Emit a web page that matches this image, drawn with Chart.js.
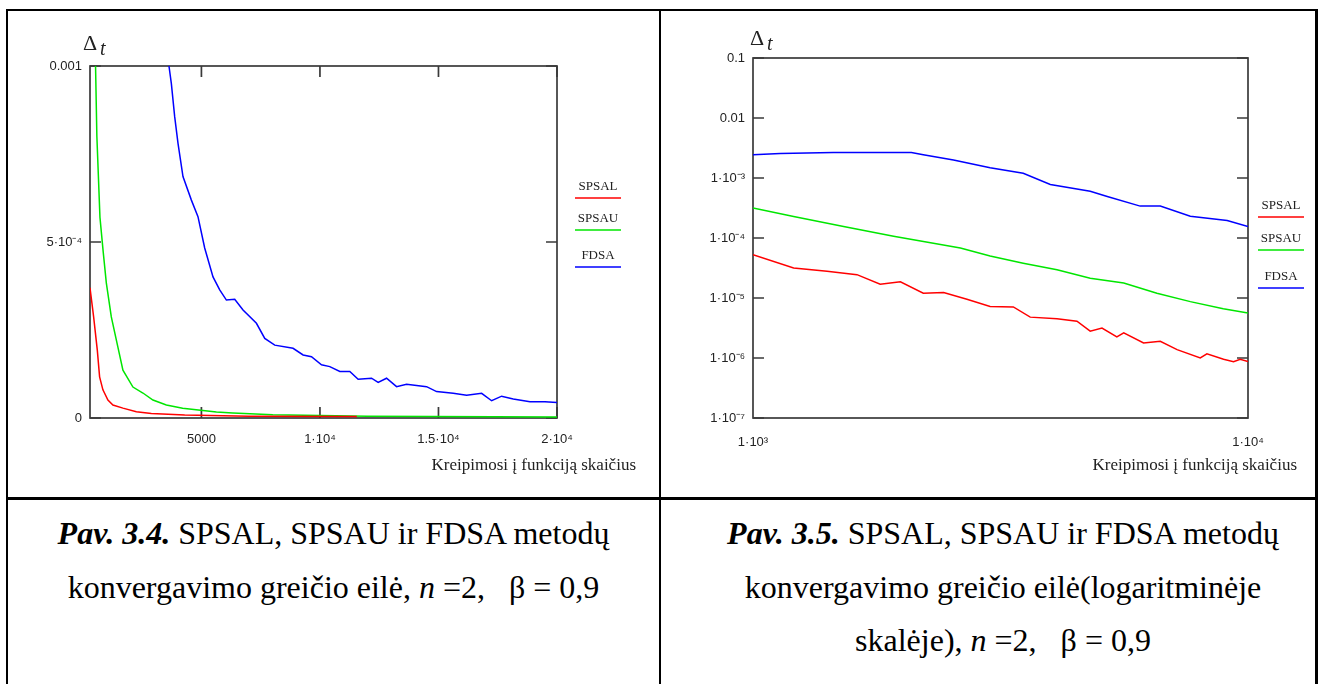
<!DOCTYPE html>
<html>
<head>
<meta charset="utf-8">
<script src="https://cdn.jsdelivr.net/npm/chart.js@4"></script>
<style>
  body { margin: 0; background: #fff; width: 1323px; height: 684px; overflow: hidden; position: relative; }
  .ln { position: absolute; background: #000; }
  canvas { position: absolute; }
  .cap { position: absolute; text-align: center; font-family: "Liberation Serif", "Times New Roman", serif; font-size: 32px; line-height: 53.5px; color: #000; white-space: nowrap; }
</style>
</head>
<body>
<!-- table rules -->
<div class="ln" style="left:6px;top:9px;width:1312px;height:2px"></div>
<div class="ln" style="left:6px;top:9px;width:2px;height:675px"></div>
<div class="ln" style="left:659px;top:9px;width:2px;height:675px"></div>
<div class="ln" style="left:1315px;top:9px;width:2.5px;height:675px"></div>
<div class="ln" style="left:6px;top:497px;width:1312px;height:2.5px"></div>

<canvas id="linChart" width="651" height="486" style="left:8px;top:11px;width:651px;height:486px"></canvas>
<canvas id="logChart" width="654" height="486" style="left:661px;top:11px;width:654px;height:486px"></canvas>

<div class="cap" style="left:8px;top:507px;width:651px">
  <b><i>Pav. 3.4.</i></b> SPSAL, SPSAU ir FDSA metodų<br>
  konvergavimo greičio eilė, <i>n</i> =2,&nbsp;&nbsp; β = 0,9
</div>
<div class="cap" style="left:691px;top:507px;width:624px">
  <b><i>Pav. 3.5.</i></b> SPSAL, SPSAU ir FDSA metodų<br>
  konvergavimo greičio eilė(logaritminėje<br>
  skalėje), <i>n</i> =2,&nbsp;&nbsp; β = 0,9
</div>

<script>
  let seriesNames = ["SPSAL", "SPSAU", "FDSA"];
  let seriesColors = ["#ff0000", "#00e600", "#0000ff"];
  let xTitle = "Kreipimosi į funkciją skaičius";

  // fig 3.4 - linear axes
  let linSpsalX = [300, 452, 608, 705, 845, 1056, 1267, 1689, 2255, 2888, 4294, 7000, 11556];
  let linSpsalY = [3.7e-4, 2.88e-4, 1.93e-4, 1.17e-4, 8.0e-5, 5.1e-5, 3.7e-5, 2.8e-5, 1.8e-5, 1.3e-5, 8.5e-6, 5e-6, 4e-6];

  let linSpsauX = [300, 520, 590, 720, 860, 988, 1199, 1410, 1689, 2111, 2533, 2955, 3521, 4209, 5632, 6320, 8009, 12000, 20000];
  let linSpsauY = [3.0e-3, 1.05e-3, 8.0e-4, 5.7e-4, 4.7e-4, 3.84e-4, 2.87e-4, 2.22e-4, 1.36e-4, 8.8e-5, 7.1e-5, 5.1e-5, 3.7e-5, 2.8e-5, 1.7e-5, 1.4e-5, 9e-6, 5e-6, 3e-6];

  let linFdsaX = [3000, 3631, 3732, 3872, 4011, 4222, 4577, 4855, 5138, 5489, 5772, 6054, 6405, 6755, 7321, 7672, 8094, 8866, 9289, 9643,
    10065, 10416, 10838, 11260, 11611, 12176, 12455, 12810, 13232, 13654, 14499, 14921, 15622, 16187, 16821, 17243, 17665, 18155, 18860, 19493, 20000];
  let linFdsaY = [1.3e-3, 1.0e-3, 9.5e-4, 8.56e-4, 7.81e-4, 6.86e-4, 6.19e-4, 5.72e-4, 4.83e-4, 4.01e-4, 3.64e-4, 3.35e-4, 3.37e-4, 3.07e-4, 2.69e-4, 2.26e-4, 2.07e-4, 1.98e-4, 1.79e-4, 1.74e-4,
    1.51e-4, 1.46e-4, 1.32e-4, 1.32e-4, 1.10e-4, 1.13e-4, 1.01e-4, 1.13e-4, 8.9e-5, 9.6e-5, 8.9e-5, 7.5e-5, 7.0e-5, 6.5e-5, 7.0e-5, 4.9e-5, 6.2e-5, 5.4e-5, 4.6e-5, 4.6e-5, 4.4e-5];

  let linXTicks = [5000, 10000, 15000, 20000];
  let linXLabels = ["5000", "1·10⁴", "1.5·10⁴", "2·10⁴"];
  let linYTicks = [0, 0.0005, 0.001];
  let linYLabels = ["0", "5·10⁻⁴", "0.001"];

  // fig 3.5 - log axes
  let logSpsalX = [1000, 1208, 1411, 1622, 1807, 1985, 2208, 2427, 2705, 3013, 3357, 3631, 4113, 4513, 4800, 5070, 5433, 5610, 6152, 6650, 7190, 8009, 8260, 8925, 9350, 9644, 10000];
  let logSpsalY = [5.25e-5, 3.16e-5, 2.8e-5, 2.45e-5, 1.7e-5, 1.86e-5, 1.2e-5, 1.23e-5, 9.5e-6, 7.2e-6, 7.1e-6, 4.8e-6, 4.5e-6, 4.1e-6, 2.8e-6, 3.16e-6, 2.24e-6, 2.63e-6, 1.78e-6, 1.9e-6, 1.38e-6, 1.0e-6, 1.17e-6, 9.5e-7, 8.7e-7, 9.5e-7, 8.7e-7];

  let logSpsauX = [1000, 1208, 1524, 1923, 2624, 3013, 3515, 4113, 4800, 5610, 6546, 7646, 8913, 10000];
  let logSpsauY = [3.16e-4, 2.29e-4, 1.55e-4, 1.07e-4, 6.8e-5, 5.0e-5, 3.8e-5, 2.95e-5, 2.14e-5, 1.78e-5, 1.2e-5, 8.7e-6, 6.6e-6, 5.6e-6];

  let logFdsaX = [1000, 1135, 1453, 2089, 2208, 2541, 3013, 3515, 3987, 4800, 5196, 6056, 6650, 7646, 9077, 10000];
  let logFdsaY = [2.45e-3, 2.57e-3, 2.67e-3, 2.65e-3, 2.45e-3, 2.0e-3, 1.48e-3, 1.2e-3, 7.8e-4, 6.0e-4, 4.9e-4, 3.4e-4, 3.4e-4, 2.3e-4, 1.95e-4, 1.55e-4];

  let logXTicks = [1000, 10000];
  let logXLabels = ["1·10³", "1·10⁴"];
  let logYTicks = [0.1, 0.01, 1e-3, 1e-4, 1e-5, 1e-6, 1e-7];
  let logYLabels = ["0.1", "0.01", "1·10⁻³", "1·10⁻⁴", "1·10⁻⁵", "1·10⁻⁶", "1·10⁻⁷"];

  let tickFont = { family: "'Liberation Sans', Arial, sans-serif", size: 13 };

  // mathcad style box, inner ticks, legend and titles
  let mcPlot = {
    id: "mcPlot",
    beforeDatasetsDraw(chart, args, o) {
      let ctx = chart.ctx, a = chart.chartArea;
      let x = chart.scales.x, y = chart.scales.y;
      ctx.save();
      ctx.strokeStyle = "#3a3a3a";
      ctx.lineWidth = 1.7;
      ctx.strokeRect(a.left, a.top, a.right - a.left, a.bottom - a.top);
      ctx.beginPath();
      if (o.xMarks) {
        x.ticks.forEach(t => {
          let p = x.getPixelForValue(t.value);
          ctx.moveTo(p, a.top); ctx.lineTo(p, a.top + 11);
          ctx.moveTo(p, a.bottom); ctx.lineTo(p, a.bottom - 11);
        });
      }
      y.ticks.forEach(t => {
        let p = y.getPixelForValue(t.value);
        ctx.moveTo(a.left, p); ctx.lineTo(a.left + 11, p);
        ctx.moveTo(a.right, p); ctx.lineTo(a.right - 11, p);
      });
      ctx.stroke();
      ctx.restore();
    },
    afterDraw(chart, args, o) {
      let ctx = chart.ctx;
      ctx.save();
      chart.data.datasets.forEach((ds, i) => {
        let ly = o.legendY[i];
        ctx.strokeStyle = ds.borderColor;
        ctx.lineWidth = 1.5;
        ctx.beginPath();
        ctx.moveTo(o.legendX, ly);
        ctx.lineTo(o.legendX + 46, ly);
        ctx.stroke();
        ctx.fillStyle = "#222";
        ctx.font = "13px 'Liberation Serif'";
        ctx.textAlign = "center";
        ctx.fillText(ds.label, o.legendX + 23, ly - 8);
      });
      ctx.fillStyle = "#222";
      ctx.font = "17px 'Liberation Serif'";
      ctx.textAlign = "right";
      ctx.fillText(xTitle, o.titleX, o.titleY);
      ctx.textAlign = "left";
      ctx.font = "22px 'Liberation Serif'";
      ctx.fillText("Δ", o.deltaX, o.deltaY);
      ctx.font = "italic 20px 'Liberation Serif'";
      ctx.fillText("t", o.deltaX + 17, o.deltaY + 5);
      ctx.restore();
    }
  };

  function makeChart(id, cfg) {
    let sets = cfg.series.map((s, i) => ({
      label: seriesNames[i],
      data: s[0].map((v, k) => ({ x: v, y: s[1][k] })),
      borderColor: seriesColors[i],
      borderWidth: 1.5,
      pointRadius: 0,
      tension: 0,
      fill: false
    }));

    return new Chart(document.getElementById(id), {
      type: "line",
      data: { datasets: sets },
      options: {
        responsive: false,
        animation: false,
        devicePixelRatio: 1,
        layout: { padding: cfg.pad },
        plugins: {
          legend: { display: false },
          tooltip: { enabled: false },
          mcPlot: cfg.deco
        },
        scales: {
          x: {
            type: cfg.type,
            min: cfg.xMin,
            max: cfg.xMax,
            grid: { display: false, drawTicks: false },
            border: { display: false },
            afterBuildTicks: s => { s.ticks = cfg.xTicks.map(v => ({ value: v })); },
            afterFit: s => { s.height = 79; },
            ticks: {
              padding: cfg.xPad,
              autoSkip: false,
              maxRotation: 0,
              color: "#222",
              font: tickFont,
              callback: (v, i) => cfg.xLabels[i]
            }
          },
          y: {
            type: cfg.type,
            min: cfg.yMin,
            max: cfg.yMax,
            grid: { display: false, drawTicks: false },
            border: { display: false },
            afterBuildTicks: s => { s.ticks = cfg.yTicks.map(v => ({ value: v })); },
            afterFit: s => { s.width = cfg.yWidth; },
            ticks: {
              padding: 8,
              autoSkip: false,
              color: "#222",
              font: tickFont,
              callback: (v, i) => cfg.yLabels[i]
            }
          }
        }
      },
      plugins: [mcPlot]
    });
  }

  makeChart("linChart", {
    type: "linear",
    series: [[linSpsalX, linSpsalY], [linSpsauX, linSpsauY], [linFdsaX, linFdsaY]],
    xMin: 300, xMax: 20000, yMin: 0, yMax: 0.001,
    xTicks: linXTicks, xLabels: linXLabels, yTicks: linYTicks, yLabels: linYLabels,
    pad: { top: 55, right: 102, left: 0, bottom: 0 },
    yWidth: 82, xPad: 14,
    deco: { xMarks: true, legendX: 567, legendY: [187, 219, 256], titleX: 628, titleY: 459, deltaX: 75, deltaY: 39 }
  });

  makeChart("logChart", {
    type: "logarithmic",
    series: [[logSpsalX, logSpsalY], [logSpsauX, logSpsauY], [logFdsaX, logFdsaY]],
    xMin: 1000, xMax: 10000, yMin: 1e-7, yMax: 0.1,
    xTicks: logXTicks, xLabels: logXLabels, yTicks: logYTicks, yLabels: logYLabels,
    pad: { top: 47, right: 67, left: 0, bottom: 0 },
    yWidth: 92, xPad: 17,
    deco: { xMarks: false, legendX: 597, legendY: [206, 239, 277], titleX: 636, titleY: 459, deltaX: 89, deltaY: 34 }
  });
</script>
</body>
</html>
